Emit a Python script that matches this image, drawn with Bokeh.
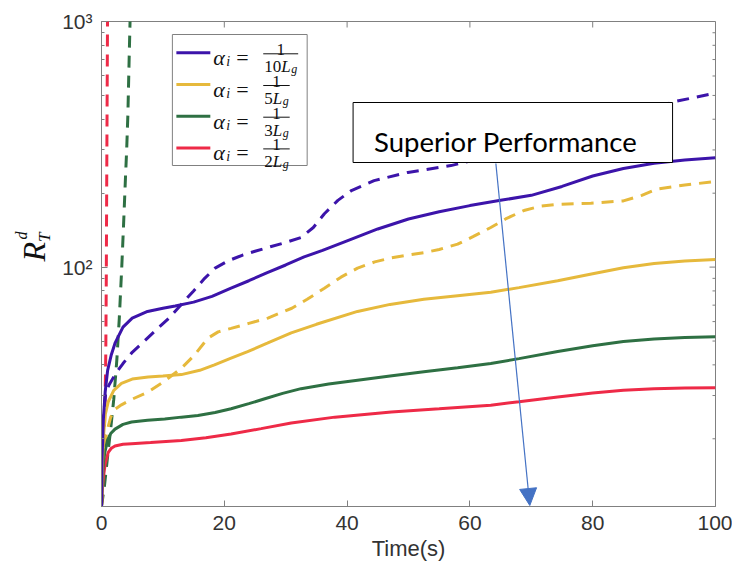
import numpy as np
from bokeh.plotting import figure
from bokeh.layouts import row
from bokeh.models import (FixedTicker, Range1d, BoxAnnotation, Label, Arrow, NormalHead)
from bokeh.embed import file_html
from bokeh.resources import INLINE

# ---------------- data ----------------
x_ticks = [0, 20, 40, 60, 80, 100]
y_ticks = [100, 1000]
y_tick_labels = {100: "10\u00b2", 1000: "10\u00b3"}
y_minor = [20, 30, 40, 50, 60, 70, 80, 90, 200, 300, 400, 500, 600, 700, 800, 900]

legend_denoms = ["10", "5", "3", "2"]

t_purple = [0, 0.1, 0.3, 0.6, 1.0, 1.6, 2.2, 3.5, 5, 7.5, 10, 12, 15, 18, 21, 24, 27, 30, 33, 36,
            40, 45, 50, 55, 60, 65, 70, 75, 80, 85, 90, 95, 100]
v_purple = [10.6, 17, 24, 31, 38, 44, 49, 57, 62, 66, 68, 69.5, 72, 76, 82, 88, 95, 102, 110, 117,
            128, 143, 157, 168, 178, 187, 196, 213, 235, 252, 265, 273, 279]

t_purple_d = [0, 0.2, 0.4, 0.7, 1.2, 2.2, 3.5, 5, 7, 9.2, 11, 13, 15, 16.8, 18.5, 20.6, 23, 25,
              27.5, 30, 32.5, 34.5, 36.3, 38.5, 40.7, 44.4, 49.9, 56.9, 60, 70, 80, 90, 93.2, 100]
v_purple_d = [10.6, 18, 26, 31, 33, 36.5, 40.5, 45, 50, 56.4, 62, 70.5, 80, 90, 99, 106, 112, 116,
              121, 126, 132, 145, 165, 187, 205, 225, 243, 259, 270, 320, 380, 445, 471, 511]

t_yellow = [0, 0.1, 0.3, 0.6, 1.1, 2, 3.25, 5, 7.6, 10, 13, 16, 18.4, 21, 23.8, 27, 30.9, 35, 41.7,
            47, 52.5, 58, 63.4, 68, 74.3, 80, 85, 90, 95, 100]
v_yellow = [10.6, 14, 20, 25, 28.3, 31.5, 33.6, 35, 35.7, 36, 36.5, 38, 40, 42.5, 45.3, 49, 54, 58.5,
            66, 70.5, 74, 76.5, 79, 82.5, 88, 94, 99.4, 103.5, 106, 107.5]

t_yellow_d = [0, 0.3, 0.8, 1.5, 2.3, 3.25, 5, 7.6, 10, 13, 15.2, 17.3, 19, 21.1, 24, 27.1, 31, 33.5,
              36.3, 39, 41.7, 44.5, 47.2, 50, 52.5, 55, 58, 60.5, 63.4, 66, 68.8, 71.5, 74.3, 79.7,
              85, 88, 90.5, 95, 100]
v_yellow_d = [10.6, 16, 21, 24.5, 26.5, 27.5, 29, 31, 34, 38.7, 44, 51.3, 54.5, 56.3, 59, 62, 68, 74,
              82, 91, 99, 105, 109, 112, 114.5, 118, 124, 133, 145, 158, 170, 177, 180, 182,
              186, 196, 208, 216, 223]

t_green = [0, 0.1, 0.3, 0.54, 1.0, 1.5, 2.2, 3.5, 4.9, 7.5, 10.3, 13, 15.7, 18.5, 21.1, 24, 26.6,
           29.5, 32.5, 37, 41.7, 47, 52.5, 58, 63.4, 68, 74.3, 80, 85, 90, 95, 100]
v_green = [10.6, 13, 16, 17.6, 19.8, 21, 21.9, 22.9, 23.4, 23.8, 24.1, 24.5, 24.9, 25.6, 26.5, 27.8,
           29.1, 30.6, 32, 33.4, 34.6, 36, 37.5, 38.9, 40.5, 42.4, 45.3, 47.8, 49.8, 51, 51.7, 52.1]

t_green_d = [0, 0.5, 1.0, 1.5, 2.0, 2.5, 2.9, 3.3, 3.6, 3.9, 4.1, 4.3, 4.5, 4.65, 4.8]
v_green_d = [10.6, 13, 17, 22, 29, 42, 62, 100, 150, 230, 300, 420, 700, 1000, 1300]

t_red = [0, 0.1, 0.27, 0.6, 1.1, 1.6, 2.2, 3.5, 4.9, 8, 13, 17, 21.1, 26, 30.9, 38, 47.2, 55, 63.4,
         68, 74.3, 80, 85, 90, 95, 100]
v_red = [10.6, 12, 13.7, 15.8, 17.6, 18.3, 18.7, 19, 19.1, 19.3, 19.7, 20.2, 20.9, 22, 23.2, 24.5,
         25.7, 26.5, 27.4, 28.3, 29.6, 30.7, 31.5, 32, 32.2, 32.3]

t_red_d = [0, 0.25, 0.45, 0.6, 0.7, 0.78, 0.85, 0.92, 0.97, 1.0]
v_red_d = [10.6, 14, 20, 30, 45, 90, 220, 500, 900, 1300]

# ---------------- styles ----------------
C_PURPLE = "#3c14aa"
C_YELLOW = "#e6b93c"
C_GREEN = "#2e7043"
C_RED = "#ee2a47"
C_AXIS = "#808080"
C_TICKLBL = "#333333"
C_ARROW = "#4472c4"
C_MATH = "#111111"

X_MIN, X_MAX = 0, 100
Y_MIN, Y_MAX = 10.6, 1000
# frame position on the page (reference pixels)
FL, FR, FT, FB = 100, 715, 21, 506
PAGE_W, PAGE_H = 732, 569
LEFT_W = 59          # narrow strip holding the y-axis title


def dx(px):
    return X_MIN + (px - FL) / (FR - FL) * (X_MAX - X_MIN)


def dy(py):
    lo, hi = np.log10(Y_MIN), np.log10(Y_MAX)
    return float(10 ** (hi - (py - FT) / (FB - FT) * (hi - lo)))


# ---------------- main figure ----------------
W = PAGE_W - LEFT_W
p = figure(width=W, height=PAGE_H, x_range=Range1d(X_MIN, X_MAX), y_range=Range1d(Y_MIN, Y_MAX),
           y_axis_type="log", output_backend="svg", toolbar_location=None,
           min_border_left=FL - LEFT_W, min_border_right=PAGE_W - FR, min_border_top=FT,
           min_border_bottom=PAGE_H - FB)
p.background_fill_color = "white"
p.border_fill_color = "white"
p.outline_line_color = C_AXIS
p.xgrid.visible = False
p.ygrid.visible = False

xa = p.below[0]
ya = p.left[0]
xt = FixedTicker(ticks=x_ticks, minor_ticks=[])
yt = FixedTicker(ticks=y_ticks, minor_ticks=y_minor)
xa.ticker = xt
ya.ticker = yt
ya.major_label_overrides = y_tick_labels

for ax in [xa, ya]:
    ax.axis_line_color = C_AXIS
    ax.major_tick_line_color = C_AXIS
    ax.minor_tick_line_color = C_AXIS
    ax.major_tick_in = 6
    ax.major_tick_out = 0
    ax.minor_tick_in = 3
    ax.minor_tick_out = 0
    ax.major_label_text_font = "Liberation Sans"
    ax.major_label_text_font_size = "21px"
    ax.major_label_text_color = C_TICKLBL
xa.major_label_standoff = 9
ya.major_label_standoff = 9
xa.axis_label = "Time(s)"
xa.axis_label_text_font = "Liberation Sans"
xa.axis_label_text_font_size = "22px"
xa.axis_label_text_font_style = "normal"
xa.axis_label_text_color = C_TICKLBL
xa.axis_label_standoff = 3

# mirrored ticks on the top and right edges of the box
n_x = len(x_ticks)
p.segment(x0=x_ticks, y0=[Y_MAX] * n_x, x1=x_ticks, y1=[dy(FT + 6)] * n_x,
          line_color=C_AXIS, line_width=1)
p.segment(x0=[X_MAX] * len(y_ticks), y0=y_ticks, x1=[dx(FR - 6)] * len(y_ticks), y1=y_ticks,
          line_color=C_AXIS, line_width=1)
p.segment(x0=[X_MAX] * len(y_minor), y0=y_minor, x1=[dx(FR - 3)] * len(y_minor), y1=y_minor,
          line_color=C_AXIS, line_width=1)

# ---------------- lines ----------------
LW = 3
DASH = "12 8"
p.line(t_red_d, v_red_d, line_color=C_RED, line_width=LW, line_dash=DASH)
p.line(t_green_d, v_green_d, line_color=C_GREEN, line_width=LW, line_dash=DASH)
p.line(t_yellow_d, v_yellow_d, line_color=C_YELLOW, line_width=LW, line_dash=DASH)
p.line(t_purple_d, v_purple_d, line_color=C_PURPLE, line_width=LW, line_dash=DASH)
p.line(t_red, v_red, line_color=C_RED, line_width=LW)
p.line(t_green, v_green, line_color=C_GREEN, line_width=LW)
p.line(t_yellow, v_yellow, line_color=C_YELLOW, line_width=LW)
p.line(t_purple, v_purple, line_color=C_PURPLE, line_width=LW)

# ---------------- annotation box + arrow ----------------
p.add_layout(BoxAnnotation(left=dx(352), right=dx(672), top=dy(102), bottom=dy(162),
                           fill_color="white", fill_alpha=1.0, line_color="black",
                           line_width=1, line_alpha=1.0))
p.add_layout(Label(x=dx(373), y=dy(141), text="Superior Performance", text_font="Lato",
                   text_font_size="27.5px", text_color="black", text_baseline="alphabetic",
                   text_align="left"))
p.add_layout(Arrow(end=NormalHead(size=17, fill_color=C_ARROW, line_color=C_ARROW),
                   x_start=dx(495), y_start=dy(163), x_end=dx(529), y_end=dy(505),
                   line_color=C_ARROW, line_width=1.2))

# ---------------- legend (box, samples, math labels) ----------------
p.add_layout(BoxAnnotation(left=dx(171), right=dx(306), top=dy(34), bottom=dy(165),
                           fill_color="white", fill_alpha=1.0, line_color=C_AXIS,
                           line_width=1, line_alpha=1.0))


def add_text(fig, txt, x, y, size, font="Liberation Serif", style="italic", align="left",
             baseline="alphabetic", angle=0.0, color=C_MATH):
    fig.add_layout(Label(x=x, y=y, text=txt, text_font=font, text_font_size=f"{size}px",
                         text_font_style=style, text_align=align, text_baseline=baseline,
                         angle=angle, text_color=color))


legend_colors = [C_PURPLE, C_YELLOW, C_GREEN, C_RED]
for i, (den, col) in enumerate(zip(legend_denoms, legend_colors)):
    cy = 52.3 + 31.7 * i
    p.add_layout(Arrow(end=None, x_start=dx(175), y_start=dy(cy), x_end=dx(209), y_end=dy(cy),
                       line_color=col, line_width=LW))
    add_text(p, "\u03b1", dx(212), dy(cy + 5), 22)
    add_text(p, "i", dx(225), dy(cy + 9), 14)
    add_text(p, "=", dx(235), dy(cy + 5), 22, style="normal")
    dw = 8.5 * len(den)
    x0 = 263
    add_text(p, den, dx(x0), dy(cy + 14), 17, style="normal")
    add_text(p, "L", dx(x0 + dw), dy(cy + 14), 17)
    add_text(p, "g", dx(x0 + dw + 10), dy(cy + 16.5), 12)
    bar_r = x0 + dw + 17
    add_text(p, "1", dx((262 + bar_r) / 2), dy(cy - 3), 17, style="normal", align="center")
    p.add_layout(Arrow(end=None, x_start=dx(262), y_start=dy(cy + 1), x_end=dx(bar_r),
                       y_end=dy(cy + 1), line_color=C_MATH, line_width=1))

# ---------------- y-axis title strip (page pixel coordinates, y measured upward) ----------------
lab = figure(width=LEFT_W, height=PAGE_H, x_range=Range1d(0, LEFT_W), y_range=Range1d(0, PAGE_H),
             output_backend="svg", toolbar_location=None, x_axis_location=None,
             y_axis_location=None, min_border=0, min_border_left=0, min_border_right=0,
             min_border_top=0, min_border_bottom=0)
lab.outline_line_color = None
lab.xgrid.visible = False
lab.ygrid.visible = False
lab.background_fill_color = "white"
lab.border_fill_color = "white"
# glyph centres (rotation-invariant anchoring)
add_text(lab, "R", 33.5, PAGE_H - 270, 32, align="center", baseline="middle", angle=np.pi / 2)
add_text(lab, "d", 21, PAGE_H - 251, 16, align="center", baseline="middle", angle=np.pi / 2)
add_text(lab, "T", 43.5, PAGE_H - 253, 17, align="center", baseline="middle", angle=np.pi / 2)

layout = row(lab, p, spacing=0)
open("out.html", "w").write(file_html(layout, INLINE))
